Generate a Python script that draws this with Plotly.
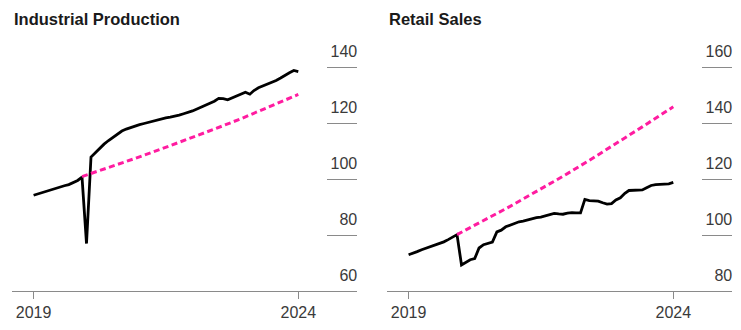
import pandas as pd
import plotly.graph_objects as go
from plotly.subplots import make_subplots

# Monthly observations, Jan 2019 .. Jan 2024
months = pd.date_range("2019-01-01", "2024-01-01", freq="MS")

industrial = [
    94.3, 94.8, 95.3, 95.9, 96.4, 96.9, 97.3, 97.7, 98.1, 98.7, 99.6, 100.8,
    77.0, 108.0, 109.6, 111.2, 112.6, 113.9, 115.0, 116.2, 117.3, 118.0, 118.6, 119.1,
    119.6, 120.0, 120.4, 120.9, 121.3, 121.6, 122.0, 122.3, 122.6, 123.0, 123.5, 123.9,
    124.5, 125.2, 125.8, 126.6, 127.3, 128.0, 129.0, 128.9, 128.5, 129.2, 130.0, 130.5,
    131.2, 130.5, 131.8, 132.8, 133.4, 134.0, 134.6, 135.4, 136.3, 137.3, 138.2, 139.0,
    138.6,
]

retail = [
    93.0, 93.5, 94.1, 94.8, 95.3, 95.8, 96.4, 97.0, 97.6, 98.4, 99.3, 100.2,
    89.3, 90.4, 91.2, 91.6, 95.4, 96.6, 97.0, 97.5, 101.2, 101.8, 103.0, 103.6,
    104.2, 104.8, 105.0, 105.5, 106.0, 106.3, 106.5, 106.9, 107.4, 107.8, 107.6, 107.5,
    107.9, 108.1, 108.0, 108.0, 112.8, 112.4, 112.3, 112.2, 111.6, 111.1, 111.3, 112.6,
    113.4, 115.0, 116.0, 116.0, 116.0, 116.2, 117.0, 117.8, 118.1, 118.3, 118.3, 118.4,
    118.9,
]

# Pre-pandemic trend paths
trend_dates = ["2019-12-01", "2020-06-01", "2020-12-01", "2021-06-01", "2021-12-01",
               "2022-06-01", "2022-12-01", "2023-06-01", "2024-01-01"]
industrial_trend = [101.0, 104.2, 107.5, 110.9, 114.4, 118.0, 121.7, 125.6, 130.4]
retail_trend = [100.2, 105.2, 110.3, 115.7, 121.1, 126.8, 132.7, 138.8, 146.0]

titles = ["Industrial Production", "Retail Sales"]
year_ticks = ["2019-01-01", "2024-01-01"]
year_labels = ["2019", "2024"]
ip_ticks = [60, 80, 100, 120, 140]
rs_ticks = [80, 100, 120, 140, 160]

BLACK = "#000000"
PINK = "#ff1ca0"
AXIS_GREY = "#8a8a8a"
TEXT_GREY = "#3a3a3a"
FONT = "Liberation Sans"

fig = make_subplots(rows=1, cols=2, horizontal_spacing=0.0)

panels = [
    (1, industrial, industrial_trend, ip_ticks),
    (2, retail, retail_trend, rs_ticks),
]
for col, actual, trend, yticks in panels:
    fig.add_trace(go.Scatter(
        x=months, y=actual, mode="lines",
        line=dict(color=BLACK, width=2.8), showlegend=False, hoverinfo="skip",
    ), row=1, col=col)
    fig.add_trace(go.Scatter(
        x=trend_dates, y=trend, mode="lines",
        line=dict(color=PINK, width=3, dash="6px,3.5px"), showlegend=False,
        hoverinfo="skip",
    ), row=1, col=col)
    fig.update_xaxes(
        type="date", range=["2018-08-05", "2025-02-09"],
        tickvals=year_ticks, ticktext=year_labels,
        showline=True, linecolor=AXIS_GREY, linewidth=1,
        ticks="outside", ticklen=7, tickwidth=1, tickcolor=AXIS_GREY,
        showgrid=False, zeroline=False,
        tickfont=dict(family=FONT, size=16, color=TEXT_GREY),
        row=1, col=col,
    )
    # headroom above the top tick so its rule is not clipped
    fig.update_yaxes(
        range=[yticks[0], yticks[-1] + 0.6], tickvals=yticks,
        side="right", showline=False, showgrid=False, zeroline=False,
        ticks="inside", ticklen=30, tickwidth=1.2, tickcolor=AXIS_GREY,
        ticklabelposition="inside", ticklabelshift=-16, ticklabelstandoff=-30,
        ticklabeloverflow="allow",
        tickfont=dict(family=FONT, size=16, color=TEXT_GREY),
        row=1, col=col,
    )

fig.update_xaxes(domain=[0.0, 345 / 720], row=1, col=1)
fig.update_xaxes(domain=[375 / 720, 1.0], row=1, col=2)

for i, title in enumerate(titles):
    fig.add_annotation(
        text="<b>" + title + "</b>", xref=("x domain" if i == 0 else "x2 domain"),
        yref="paper", x=0, y=1, yshift=47, xanchor="left", yanchor="middle",
        showarrow=False, font=dict(family=FONT, size=16.5, color="#1a1a1a"),
    )

fig.update_layout(
    width=741, height=330,
    margin=dict(l=12, r=9, t=66, b=32),
    paper_bgcolor="white", plot_bgcolor="white",
)

fig.write_html("out.html")
